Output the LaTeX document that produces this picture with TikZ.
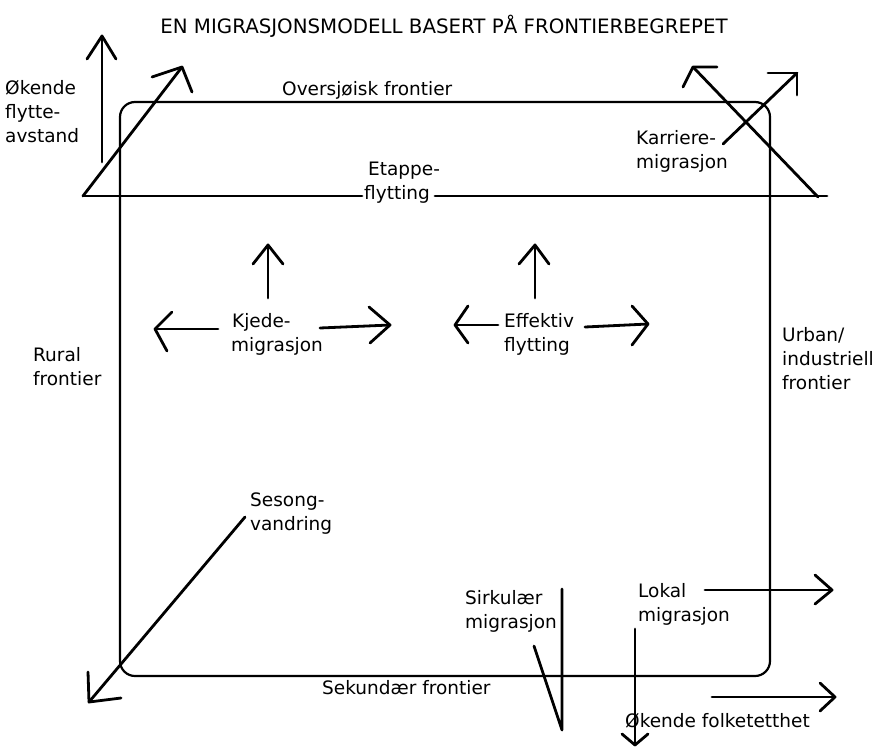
\documentclass[tikz,border=0pt]{standalone}
\usepackage{fontspec}
\setmainfont{DejaVu Sans}
\begin{document}
\begin{tikzpicture}[x=1pt,y=-1pt,
  lbl/.style={inner sep=0pt, anchor=north west, align=left, font=\fontsize{18.5}{24}\selectfont},
  ttl/.style={inner sep=0pt, anchor=north, font=\fontsize{19.8}{24}\selectfont},
  frame/.style={line width=2.2pt, rounded corners=15pt},
  ln/.style={line width=2.8pt, line cap=round, line join=round}]
\useasboundingbox[fill=white] (0,0) rectangle (888,747);

% frame (the four frontiers)
\draw[frame] (120,102) rectangle (770,676);

% texts
\node[ttl] (title) at (444,15) {EN MIGRASJONSMODELL BASERT PÅ FRONTIERBEGREPET};
\node[lbl] (okflytt) at (5,80) {Økende\\flytte-\\avstand};
\node[lbl] (overs) at (282,81) {Oversjøisk frontier};
\node[lbl] (etappe) at (364,162) {\hspace*{4pt}Etappe-\\flytting};
\node[lbl] (karr) at (636,130) {Karriere-\\migrasjon};
\node[lbl] (kjede) at (231,313) {\hspace*{1pt}Kjede-\\migrasjon};
\node[lbl] (effekt) at (504,313) {Effektiv\\flytting};
\node[lbl] (rural) at (33,347) {Rural\\frontier};
\node[lbl] (urban) at (782,327) {Urban/\\industriell\\frontier};
\node[lbl] (sesong) at (250,493) {Sesong-\\vandring};
\node[lbl] (sekund) at (322,680) {Sekundær frontier};
\node[lbl] (sirk) at (465,590) {Sirkulær\\migrasjon};
\node[lbl] (lokal) at (638,583) {Lokal\\migrasjon};
\node[lbl] (okfolk) at (625,713) {Økende folketetthet};

% coordinates
\coordinate (e0) at (83,196);
\coordinate (e1) at (362,196);
\coordinate (e2) at (435,196);
\coordinate (e3) at (827,196);

% Økende flytteavstand arrow
\coordinate (v0) at (102,162); \coordinate (v1) at (102,36);
\coordinate (va) at (87,59); \coordinate (vb) at (116,59);
\draw[ln] (v0) -- (v1); \draw[ln] (va) -- (v1) -- (vb);

% Etappe line
\draw[ln] (e0) -- (e1);
\draw[ln] (e2) -- (e3);

% left diagonal arrow (etappe)
\coordinate (d1) at (182,67);
\coordinate (da) at (152,77); \coordinate (db) at (192,92);
\draw[ln] (e0) -- (d1); \draw[ln] (da) -- (d1) -- (db);

% Karriere arrows
\coordinate (k0) at (818,197); \coordinate (k1) at (693,67);
\coordinate (ka) at (717,67); \coordinate (kb) at (683,87);
\draw[ln] (k0) -- (k1); \draw[ln] (ka) -- (k1) -- (kb);
\coordinate (m0) at (723,144); \coordinate (m1) at (797,73);
\coordinate (ma) at (768,73); \coordinate (mb) at (797,95);
\draw[ln] (m0) -- (m1); \draw[ln] (ma) -- (m1) -- (mb);

% Kjede arrows
\coordinate (ku0) at (268,298); \coordinate (ku1) at (268,245);
\coordinate (kua) at (253,264); \coordinate (kub) at (283,264);
\draw[ln] (ku0) -- (ku1); \draw[ln] (kua) -- (ku1) -- (kub);
\coordinate (kl0) at (218,329); \coordinate (kl1) at (155,329);
\coordinate (kla) at (172,312); \coordinate (klb) at (167,351);
\draw[ln] (kl0) -- (kl1); \draw[ln] (kla) -- (kl1) -- (klb);
\coordinate (kr0) at (320,328); \coordinate (kr1) at (390,325);
\coordinate (kra) at (369,307); \coordinate (krb) at (370,343);
\draw[ln] (kr0) -- (kr1); \draw[ln] (kra) -- (kr1) -- (krb);

% Effektiv arrows
\coordinate (eu0) at (535,298); \coordinate (eu1) at (535,245);
\coordinate (eua) at (519,264); \coordinate (eub) at (549,264);
\draw[ln] (eu0) -- (eu1); \draw[ln] (eua) -- (eu1) -- (eub);
\coordinate (el0) at (498,325); \coordinate (el1) at (455,325);
\coordinate (ela) at (468,306); \coordinate (elb) at (468,343);
\draw[ln] (el0) -- (el1); \draw[ln] (ela) -- (el1) -- (elb);
\coordinate (er0) at (585,327); \coordinate (er1) at (648,324);
\coordinate (era) at (632,306); \coordinate (erb) at (632,345);
\draw[ln] (er0) -- (er1); \draw[ln] (era) -- (er1) -- (erb);

% Sesongvandring arrow
\coordinate (s0) at (245,517); \coordinate (s1) at (89,702);
\coordinate (sa) at (88,672); \coordinate (sb) at (121,698);
\draw[ln] (s0) -- (s1); \draw[ln] (sa) -- (s1) -- (sb);

% Sirkulær migrasjon
\coordinate (c0) at (562,589); \coordinate (c1) at (562,730); \coordinate (c2) at (534,646);
\draw[ln] (c0) -- (c1) -- (c2);

% Lokal migrasjon arrows
\coordinate (ld0) at (635,629); \coordinate (ld1) at (635,745);
\coordinate (lda) at (622,734); \coordinate (ldb) at (648,734);
\draw[ln] (ld0) -- (ld1); \draw[ln] (lda) -- (ld1) -- (ldb);
\coordinate (lr0) at (705,590); \coordinate (lr1) at (832,590);
\coordinate (lra) at (815,575); \coordinate (lrb) at (815,604);
\draw[ln] (lr0) -- (lr1); \draw[ln] (lra) -- (lr1) -- (lrb);

% Økende folketetthet arrow
\coordinate (f0) at (712,697); \coordinate (f1) at (835,697);
\coordinate (fa) at (820,683); \coordinate (fb) at (820,711);
\draw[ln] (f0) -- (f1); \draw[ln] (fa) -- (f1) -- (fb);
\end{tikzpicture}
\end{document}
